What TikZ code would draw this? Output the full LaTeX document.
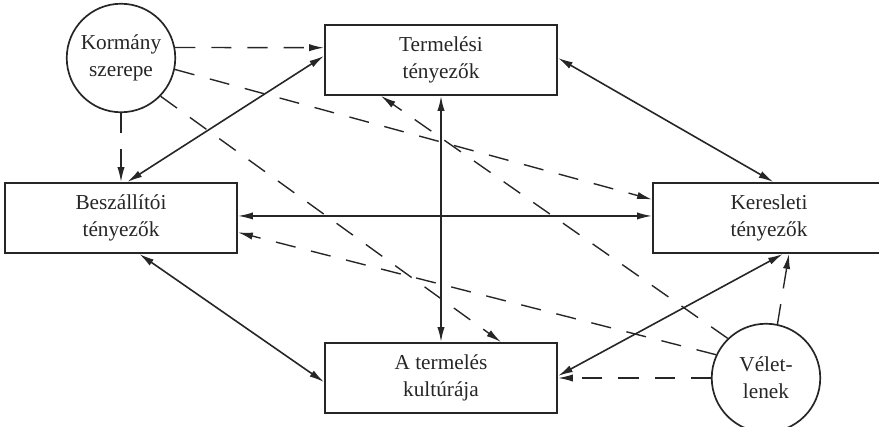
\documentclass[tikz,border=0pt]{standalone}
\usepackage{fontspec}
\setmainfont{Liberation Serif}
\usetikzlibrary{arrows.meta}

\begin{document}
\begin{tikzpicture}[x=0.47pt,y=-0.47pt,color=black!85,
	font=\fontsize{10}{12.7}\selectfont,
	box/.style={draw,line width=0.95pt,minimum width=109pt,minimum height=32.9pt,align=center,inner sep=0pt},
	ring/.style={draw,circle,line width=0.8pt,minimum size=51pt,align=center,inner sep=0pt},
	both/.style={{Latex[length=7pt,width=3.4pt]}-{Latex[length=7pt,width=3.4pt]},line width=0.75pt},
	dep/.style={-{Latex[length=7pt,width=3.4pt]},line width=0.65pt,dash pattern=on 9.5pt off 7.5pt}]
	\useasboundingbox (0,0) rectangle (879,427);

	\node[ring] (kormany) at (121,58) {Kormány\\szerepe};
	\node[box] (termeles) at (441,60) {Termelési\\tényezők};
	\node[box] (beszallito) at (121,218) {Beszállítói\\tényezők};
	\node[box] (kereslet) at (769,218) {Keresleti\\tényezők};
	\node[box] (kultura) at (441,378) {A termelés\\kultúrája};
	\node[ring] (veletlen) at (766,378) {Vélet-\\lenek};

	% kolcsonos hatasok
	\draw (beszallito.80) edge[both] (termeles.178)
	(termeles.1) edge[both] (kereslet.83)
	(beszallito.1) edge[both] (kereslet.179)
	(termeles) edge[both] (kultura)
	(beszallito.-63) edge[both] (kultura.182)
	(kultura.1) edge[both] (kereslet.-69);

	% kormany es veletlen
	\draw (kormany.11) edge[dep] (termeles.174)
	(kormany.-12) edge[dep] (kereslet.171)
	(kormany.-44) edge[dep] (kultura.31)
	(kormany.south) edge[dep] (beszallito.north)
	(veletlen.155) edge[dep] (beszallito.-7)
	(veletlen.134) edge[dep] (termeles.-149)
	(veletlen) edge[dep] (kultura)
	(veletlen.78) edge[dep] (kereslet.-61);
\end{tikzpicture}
\end{document}
